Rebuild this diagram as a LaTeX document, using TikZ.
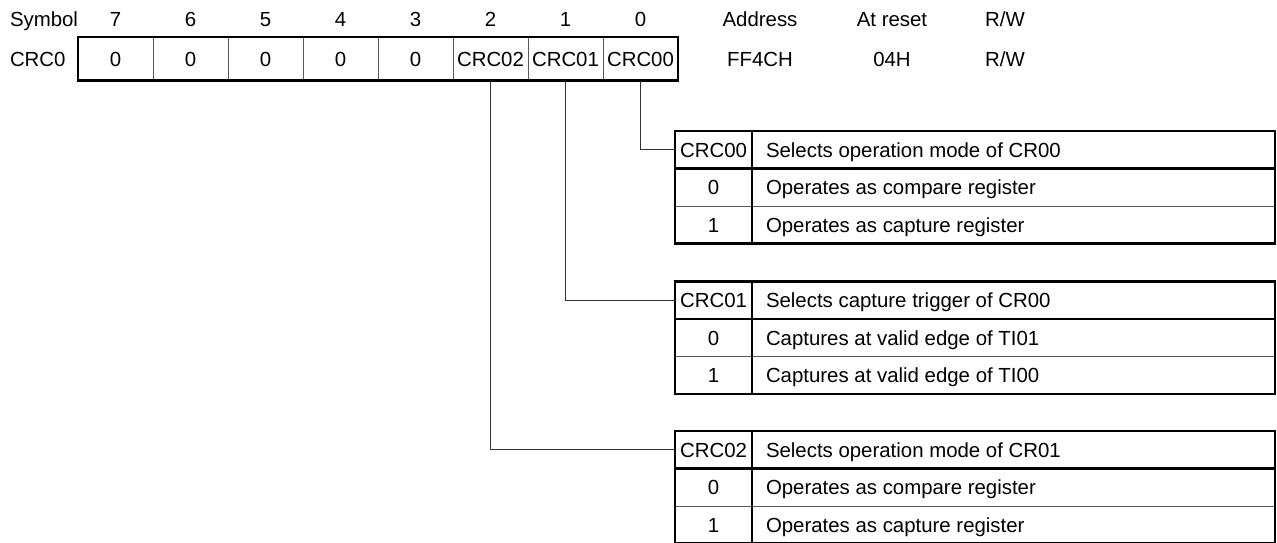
\documentclass[tikz,border=0pt]{standalone}
\usepackage{fontspec}
\setmainfont{Liberation Sans}
\begin{document}
\begin{tikzpicture}[x=1pt,y=-1pt,
  txt/.style={inner sep=0pt, outer sep=0pt, text height=14.7pt, text depth=0pt, font=\fontsize{20.4}{24}\selectfont},
  regcell/.style={txt, draw=black!65, line width=0.9pt, minimum width=75pt, minimum height=43.5pt},
  keycell/.style={txt, minimum width=77pt, minimum height=37.5pt},
  desc/.style={txt, anchor=west},
  outer/.style={line width=2.2pt, black},
  innerthick/.style={line width=2.2pt, black},
  innerthin/.style={line width=0.9pt, black!65},
  conn/.style={line width=1pt, black!80}]
\useasboundingbox (0,0) rectangle (1277,542);

% header row
\node[txt, anchor=west] (sym) at (10,19) {Symbol};
\node[txt, anchor=west] (reg) at (10,59) {CRC0};
\foreach \i/\lab in {0/7,1/6,2/5,3/4,4/3,5/2,6/1,7/0}{
  \node[txt] (bit\lab) at (115.5+75*\i,19) {\lab};
}
\node[txt] (addrh) at (760,19) {Address};
\node[txt] (rsth) at (892,19) {At reset};
\node[txt] (rwh) at (1005,19) {R/W};
\node[txt] (addr) at (760,59) {FF4CH};
\node[txt] (rst) at (892,59) {04H};
\node[txt] (rw) at (1005,59) {R/W};

% register cells
\foreach \i/\lab/\name in {0/0/c7,1/0/c6,2/0/c5,3/0/c4,4/0/c3,5/CRC02/c2,6/CRC01/c1,7/CRC00/c0}{
  \node[regcell] (\name) at (115.5+75*\i,58.75) {\lab};
}
\draw[outer] (c7.north west) rectangle (c0.south east);

% tables
\foreach \t/\y/\key/\head/\zero/\one in {
  0/131/CRC00/Selects operation mode of CR00/Operates as compare register/Operates as capture register,
  1/281.5/CRC01/Selects capture trigger of CR00/Captures at valid edge of TI01/Captures at valid edge of TI00,
  2/431/CRC02/Selects operation mode of CR01/Operates as compare register/Operates as capture register}{
  \node[keycell] (k\t) at (713.5,\y+18.75) {\key};
  \node[desc] (d\t) at (766,\y+18.75) {\head};
  \node[keycell] (z\t) at (713.5,\y+56.25) {0};
  \node[desc] (zd\t) at (766,\y+56.25) {\zero};
  \node[keycell] (o\t) at (713.5,\y+93.75) {1};
  \node[desc] (od\t) at (766,\y+93.75) {\one};
  \draw[innerthin] (675,\y+75) -- (1275,\y+75);
  \draw[innerthick] (675,\y+37.5) -- (1275,\y+37.5);
  \draw[innerthick] (752,\y) -- (752,\y+112.5);
  \draw[outer] (675,\y) rectangle (1275,\y+112.5);
}

% connectors
\draw[conn] (c0.south) |- (k0.west);
\draw[conn] (c1.south) |- (k1.west);
\draw[conn] (c2.south) |- (k2.west);
\end{tikzpicture}
\end{document}
